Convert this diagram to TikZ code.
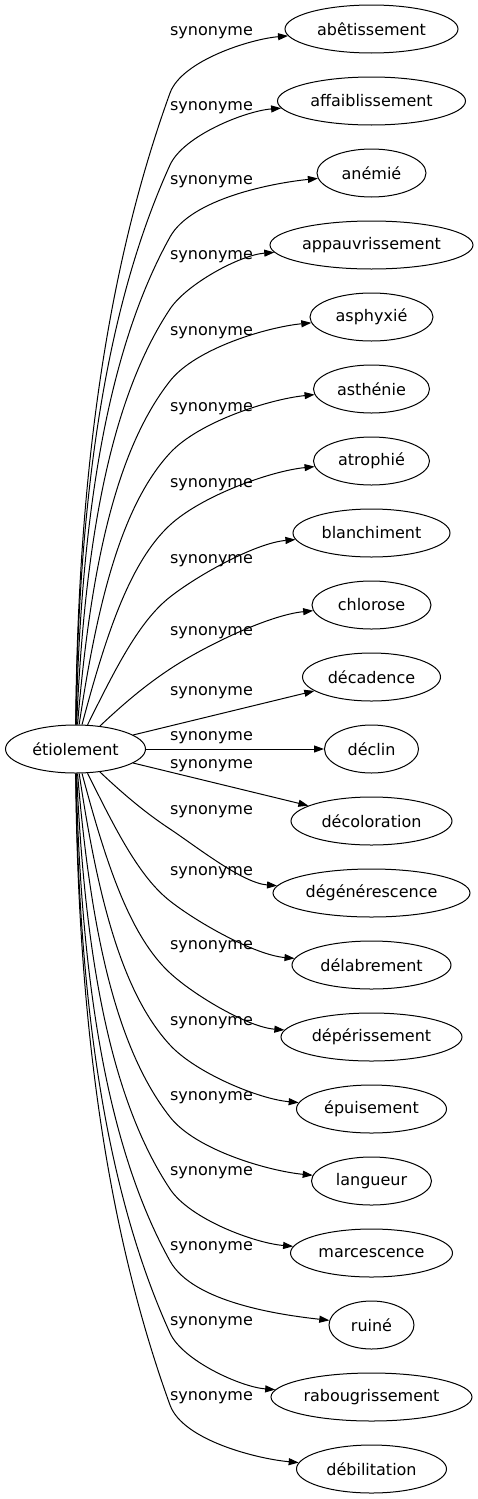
\documentclass[tikz,border=0pt]{standalone}
\usepackage{fontspec}
\setmainfont{DejaVu Sans}
\usetikzlibrary{arrows.meta,shapes.geometric}
\begin{document}
\begin{tikzpicture}[x=0.75pt,y=-0.75pt,
  every node/.style={font=\fontsize{12pt}{14pt}\selectfont},
  nd/.style={draw, ellipse, inner sep=0pt, minimum height=36pt, line width=0.75pt},
  lbl/.style={inner sep=0pt},
  edge/.style={draw, line width=0.75pt, -{Triangle[length=7.5pt,width=5.25pt]}}]
\useasboundingbox (0,0) rectangle (478,1499);
\node[nd, minimum width=105pt] (src) at (75.5,749) {étiolement};
\foreach \n/\t/\r [count=\i] in {
  abetissement/abêtissement/86.5,
  affaiblissement/affaiblissement/94,
  anemie/anémié/54.5,
  appauvrissement/appauvrissement/101.5,
  asphyxie/asphyxié/61.5,
  asthenie/asthénie/58,
  atrophie/atrophié/58,
  blanchiment/blanchiment/78.5,
  chlorose/chlorose/59.5,
  decadence/décadence/69,
  declin/déclin/47,
  decoloration/décoloration/80.5,
  degenerescence/dégénérescence/98.5,
  delabrement/délabrement/79.5,
  deperissement/dépérissement/90.5,
  epuisement/épuisement/75,
  langueur/langueur/60,
  marcescence/marcescence/81,
  ruine/ruiné/42.5,
  rabougrissement/rabougrissement/100.5,
  debilitation/débilitation/75} {
  \pgfmathsetmacro\ty{29+72*(\i-1)}
  \pgfmathsetmacro\w{1.5*\r}
  \node[nd, minimum width=\w pt] (\n) at (371.5,\ty) {\t};
}
% labels
\foreach \ly [count=\i] in {33,108,182,257,333,409,485,561,633,693,738,766,812,873,947,1023,1098,1173,1248,1323,1398} {
  \node[lbl] (l\i) at (211.5,\ly) {synonyme};
}
% curved edges
\foreach \n/\r/\i in {
  abetissement/86.5/1, affaiblissement/94/2, anemie/54.5/3,
  appauvrissement/101.5/4, asphyxie/61.5/5, asthenie/58/6,
  atrophie/58/7, blanchiment/78.5/8, chlorose/59.5/9,
  degenerescence/98.5/13, delabrement/79.5/14, deperissement/90.5/15,
  epuisement/75/16, langueur/60/17, marcescence/81/18,
  ruine/42.5/19, rabougrissement/100.5/20, debilitation/75/21} {
  \pgfmathsetmacro\ty{29+72*(\i-1)}
  \pgfmathsetmacro\s{ifthenelse(\i<11,-1,1)}
  \pgfmathsetmacro\ky{\ty-\s*64}
  \pgfmathsetmacro\L{abs(\ky-749)-24}
  \pgfmathsetmacro\fr{\L/630}
  \pgfmathsetmacro\th{30+40*\fr}
  \pgfmathsetmacro\LA{100*sqrt(0.81+(\L/100)^2)}
  \pgfmathsetmacro\hA{0.25*\LA}
  \pgfmathsetmacro\ax{78+60*(1-\fr)^2}
  \pgfmathsetmacro\ay{749+\s*(24+0.45*\L)}
  \pgfmathsetmacro\bx{170-\hA*cos(\th)}
  \pgfmathsetmacro\by{\ky-\s*\hA*sin(\th)}
  \pgfmathsetmacro\tl{371.5-\r}
  \pgfmathsetmacro\hB{0.3*(\tl-170)}
  \pgfmathsetmacro\cx{170+\hB*cos(\th)}
  \pgfmathsetmacro\cy{\ky+\s*\hB*sin(\th)}
  \pgfmathsetmacro\dx{\tl-\hB}
  \pgfmathsetmacro\dy{\ty-\s*10}
  \coordinate (k\i) at (170,\ky);
  \draw[edge] (src) .. controls (\ax,\ay) and (\bx,\by) .. (k\i) .. controls (\cx,\cy) and (\dx,\dy) .. (\n);
}
% straight edges
\draw[edge] (src) -- (decadence);
\draw[edge] (src) -- (declin);
\draw[edge] (src) -- (decoloration);
\end{tikzpicture}
\end{document}
